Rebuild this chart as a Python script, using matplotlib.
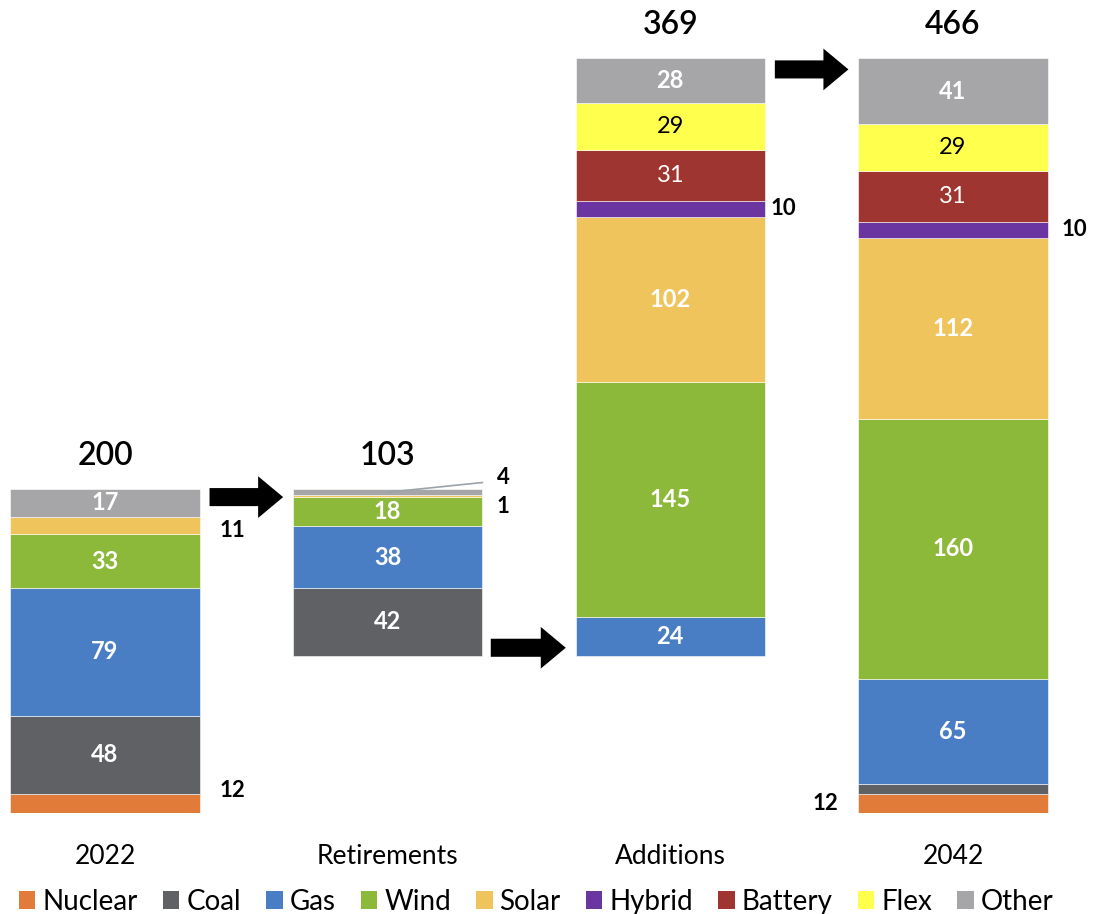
import matplotlib.pyplot as plt
from matplotlib.patches import Patch, FancyArrowPatch

plt.rcParams['font.family'] = ['Lato', 'DejaVu Sans']

categories = ["2022", "Retirements", "Additions", "2042"]
series = ["Nuclear", "Coal", "Gas", "Wind", "Solar", "Hybrid", "Battery", "Flex", "Other"]
colors = ["#E07B39", "#606165", "#4A7EC4", "#8DB93B", "#F0C45C",
          "#6A35A0", "#9E3530", "#FFFF4D", "#A6A6A8"]

y2022 = [12, 48, 79, 33, 11, 0, 0, 0, 17]
retire = [0, 42, 38, 18, 1, 0, 0, 0, 4]
adds = [0, 0, 24, 145, 102, 10, 31, 29, 28]
y2042 = [12, 6, 65, 160, 112, 10, 31, 29, 41]
bars = [y2022, retire, adds, y2042]

# which segments get a label inside the bar
inside = [
    [False, True, True, True, False, False, False, False, True],
    [False, True, True, True, False, False, False, False, False],
    [False, False, True, True, True, False, True, True, True],
    [False, False, True, True, True, False, True, True, True],
]

base_retire = sum(y2022) - sum(retire)
bases = [0, base_retire, base_retire, 0]

fig = plt.figure(figsize=(10.94, 9.14), dpi=100)
ax = fig.add_axes([0, 101 / 914, 1, 813 / 914])
ax.set_xlim(-0.3715, 3.499)
ax.set_ylim(0, 813 / 1.62)

width = 0.67
for i, vals in enumerate(bars):
    bottom = bases[i]
    for j, v in enumerate(vals):
        if v == 0:
            continue
        ax.bar(i, v, width, bottom=bottom, color=colors[j], edgecolor='white', linewidth=0.4)
        if inside[i][j]:
            tc = 'black' if series[j] == "Flex" else 'white'
            fw = 'normal' if series[j] in ("Flex", "Battery") else 'bold'
            ax.text(i, bottom + v / 2, str(v), ha='center', va='center',
                    color=tc, fontsize=17, fontweight=fw)
        bottom += v
    ax.text(i, bottom + 11, str(sum(vals)), ha='center', va='bottom', fontsize=23,
            fontweight='semibold')

# labels outside the bars
def seg_mid(i, j):
    return bases[i] + sum(bars[i][:j]) + bars[i][j] / 2

lab = dict(ha='left', va='center', fontsize=16, fontweight='bold')
ax.text(0 + width / 2 + 0.07, seg_mid(0, 4) - 3, "11", **lab)
ax.text(0 + width / 2 + 0.07, seg_mid(0, 0) + 8, "12", **lab)
ax.text(2 + width / 2 + 0.02, seg_mid(2, 5), "10", **lab)
ax.text(3 + width / 2 + 0.05, seg_mid(3, 5), "10", **lab)
ax.text(3 - width / 2 - 0.07, seg_mid(3, 0), "12", ha='right', va='center',
        fontsize=16, fontweight='bold')
ax.text(1 + width / 2 + 0.05, seg_mid(1, 8) + 9, "4", **lab)
ax.text(1 + width / 2 + 0.05, seg_mid(1, 4) - 6, "1", **lab)
ax.plot([1, 1 + width / 2 + 0.0], [seg_mid(1, 8), seg_mid(1, 8) + 6],
        color='#9AA3AA', lw=1.2)

# arrows between bars
def arrow(x0, x1, y):
    a = FancyArrowPatch((x0, y), (x1, y),
                        arrowstyle="simple,head_length=18,head_width=30,tail_width=13",
                        mutation_scale=1, color='black', lw=0)
    ax.add_patch(a)

arrow(0.36, 0.64, 195)
arrow(1.355, 1.64, 102)
arrow(2.36, 2.64, 459)

ax.set_xticks(range(len(categories)))
ax.set_xticklabels(categories, fontsize=19)
ax.tick_params(axis='x', length=0, pad=22)
ax.set_yticks([])
for s in ax.spines.values():
    s.set_visible(False)

handles = [Patch(facecolor=c, label=s) for s, c in zip(series, colors)]
fig.legend(handles=handles, loc='lower center', ncol=9, frameon=False,
           fontsize=20, handlelength=0.6, handleheight=0.6, handletextpad=0.25,
           columnspacing=0.9, bbox_to_anchor=(0.49, -0.028))

fig.savefig("out.png", dpi=100)
